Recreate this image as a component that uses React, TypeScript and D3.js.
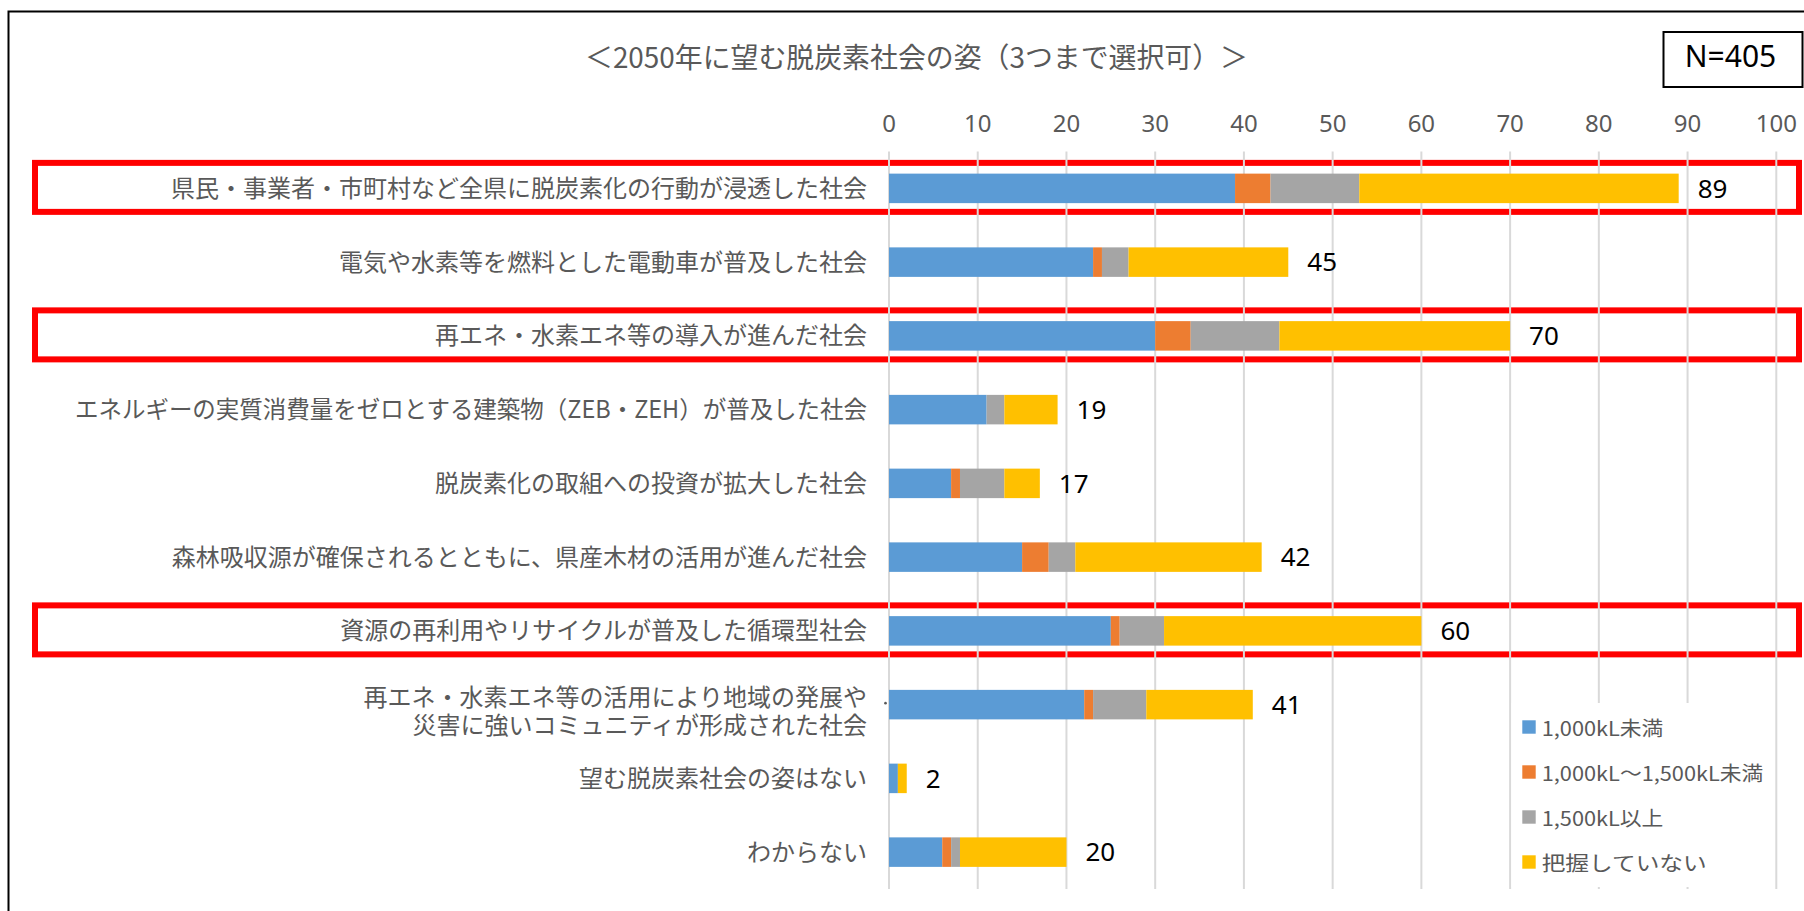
import React from "react";
import * as d3 from "d3";

const categories = [
  "県民・事業者・市町村など全県に脱炭素化の行動が浸透した社会",
  "電気や水素等を燃料とした電動車が普及した社会",
  "再エネ・水素エネ等の導入が進んだ社会",
  "エネルギーの実質消費量をゼロとする建築物（ZEB・ZEH）が普及した社会",
  "脱炭素化の取組への投資が拡大した社会",
  "森林吸収源が確保されるとともに、県産木材の活用が進んだ社会",
  "資源の再利用やリサイクルが普及した循環型社会",
  "再エネ・水素エネ等の活用により地域の発展や\n災害に強いコミュニティが形成された社会",
  "望む脱炭素社会の姿はない",
  "わからない",
];

const seriesNames = ["1,000kL未満", "1,000kL～1,500kL未満", "1,500kL以上", "把握していない"];
const under1000 = [39, 23, 30, 11, 7, 15, 25, 22, 1, 6];
const from1000to1500 = [4, 1, 4, 0, 1, 3, 1, 1, 0, 1];
const over1500 = [10, 3, 10, 2, 5, 3, 5, 6, 0, 1];
const unknownUse = [36, 18, 26, 6, 4, 21, 29, 12, 1, 12];
const colors = ["#5B9BD5", "#ED7D31", "#A5A5A5", "#FFC000"];
const highlighted = [0, 2, 6];
const tickValues = [0, 10, 20, 30, 40, 50, 60, 70, 80, 90, 100];
const title = "＜2050年に望む脱炭素社会の姿（3つまで選択可）＞";
const nLabel = "N=405";

const W = 1804;
const H = 911;
const CJK = "'Noto Sans CJK JP', 'Noto Sans', sans-serif";
const LATIN = "'Noto Sans', 'Open Sans', sans-serif";
const GRAY_TEXT = "#595959";

export default function App() {
  const x = d3.scaleLinear().domain([0, 100]).range([889, 1776.3]);
  const y = d3
    .scaleBand<string>()
    .domain(categories)
    .range([151.5, 889])
    .paddingInner(0.6)
    .paddingOuter(0.3);

  const keys = ["a", "b", "c", "d"];
  const rows = categories.map((c, i) => ({
    cat: c,
    a: under1000[i],
    b: from1000to1500[i],
    c: over1500[i],
    d: unknownUse[i],
  }));
  const stacked = d3.stack<any>().keys(keys)(rows);
  const totals = rows.map((r) => r.a + r.b + r.c + r.d);
  const bw = y.bandwidth();
  const cy = (c: string) => (y(c) as number) + bw / 2;

  const legendY0 = 727;
  const legendStep = 45;
  const legendWidths = [121.7, 221.7, 121.7, 165];

  return (
    <svg
      width={W}
      height={H}
      style={{ position: "absolute", left: 0, top: 0, background: "#fff" }}
    >
      <rect x={0} y={0} width={W} height={H} fill="#fff" />
      {/* outer chart border (right/bottom off-canvas) */}
      <rect x={8.5} y={11.5} width={2000} height={1000} fill="none" stroke="#000" strokeWidth={2} />

      {/* title */}
      <text
        x={916.5}
        y={55.7}
        textAnchor="middle"
        dominantBaseline="central"
        fontFamily={CJK}
        fontSize={28}
        fill={GRAY_TEXT}
        textLength={663}
        lengthAdjust="spacingAndGlyphs"
      >
        {title}
      </text>

      {/* N box */}
      <rect x={1663.5} y={32} width={139} height={55} fill="#fff" stroke="#000" strokeWidth={2} />
      <text x={1730.5} y={66.7} textAnchor="middle" fontFamily={LATIN} fontSize={30} fill="#000">
        {nLabel}
      </text>

      {/* highlight boxes */}
      {highlighted.map((i) => {
        const c = cy(categories[i]) - 1;
        return (
          <rect
            key={"hl" + i}
            x={35}
            y={c - 24.5}
            width={1799 - 35}
            height={49}
            fill="none"
            stroke="#FF0000"
            strokeWidth={6}
          />
        );
      })}

      {/* gridlines */}
      {tickValues.map((t) => (
        <line
          key={"g" + t}
          x1={x(t)}
          x2={x(t)}
          y1={151.5}
          y2={889}
          stroke="#D9D9D9"
          strokeWidth={2}
        />
      ))}

      {/* tick labels */}
      {tickValues.map((t) => (
        <text
          key={"t" + t}
          x={x(t)}
          y={131.5}
          textAnchor="middle"
          fontFamily={LATIN}
          fontSize={24}
          fill={GRAY_TEXT}
        >
          {t}
        </text>
      ))}

      {/* bars */}
      {stacked.map((s, si) =>
        s.map((d, i) => {
          const w = x(d[1]) - x(d[0]);
          if (w <= 0) return null;
          return (
            <rect
              key={`b${si}-${i}`}
              x={x(d[0])}
              y={y(categories[i]) as number}
              width={w}
              height={bw}
              fill={colors[si]}
            />
          );
        })
      )}

      {/* data labels */}
      {categories.map((c, i) => (
        <text
          key={"v" + i}
          x={x(totals[i]) + 19}
          y={cy(c) + 9.3}
          fontFamily={LATIN}
          fontSize={26}
          fill="#000"
        >
          {totals[i]}
        </text>
      ))}

      {/* category labels */}
      {categories.map((c, i) => {
        const lines = c.split("\n");
        const center = cy(c);
        if (lines.length === 1) {
          const isZeb = c.includes("ZEB");
          return (
            <text
              key={"l" + i}
              x={867}
              y={center - 2}
              textAnchor="end"
              dominantBaseline="central"
              fontFamily={CJK}
              fontSize={24}
              fill={GRAY_TEXT}
              {...(isZeb ? { textLength: 792, lengthAdjust: "spacingAndGlyphs" } : {})}
            >
              {c}
            </text>
          );
        }
        return (
          <g key={"l" + i}>
            <text
              x={867}
              y={center - 9.5}
              textAnchor="end"
              dominantBaseline="central"
              fontFamily={CJK}
              fontSize={24}
              fill={GRAY_TEXT}
            >
              {lines[0]}
            </text>
            <text
              x={867}
              y={center + 19}
              textAnchor="end"
              dominantBaseline="central"
              fontFamily={CJK}
              fontSize={24}
              fill={GRAY_TEXT}
            >
              {lines[1]}
            </text>
            <circle cx={885.5} cy={center - 1.5} r={1.3} fill={GRAY_TEXT} />
          </g>
        );
      })}

      {/* legend */}
      <rect x={1511.5} y={703} width={263} height={184} fill="#fff" />
      {seriesNames.map((n, i) => {
        const ly = legendY0 + i * legendStep;
        return (
          <g key={"lg" + i}>
            <rect x={1522.3} y={ly - 6.7} width={13.4} height={13.4} fill={colors[i]} />
            <text
              x={1541.7}
              y={ly}
              dominantBaseline="central"
              fontFamily={CJK}
              fontSize={20}
              fill={GRAY_TEXT}
              textLength={legendWidths[i]}
              lengthAdjust="spacingAndGlyphs"
            >
              {n}
            </text>
          </g>
        );
      })}
    </svg>
  );
}
